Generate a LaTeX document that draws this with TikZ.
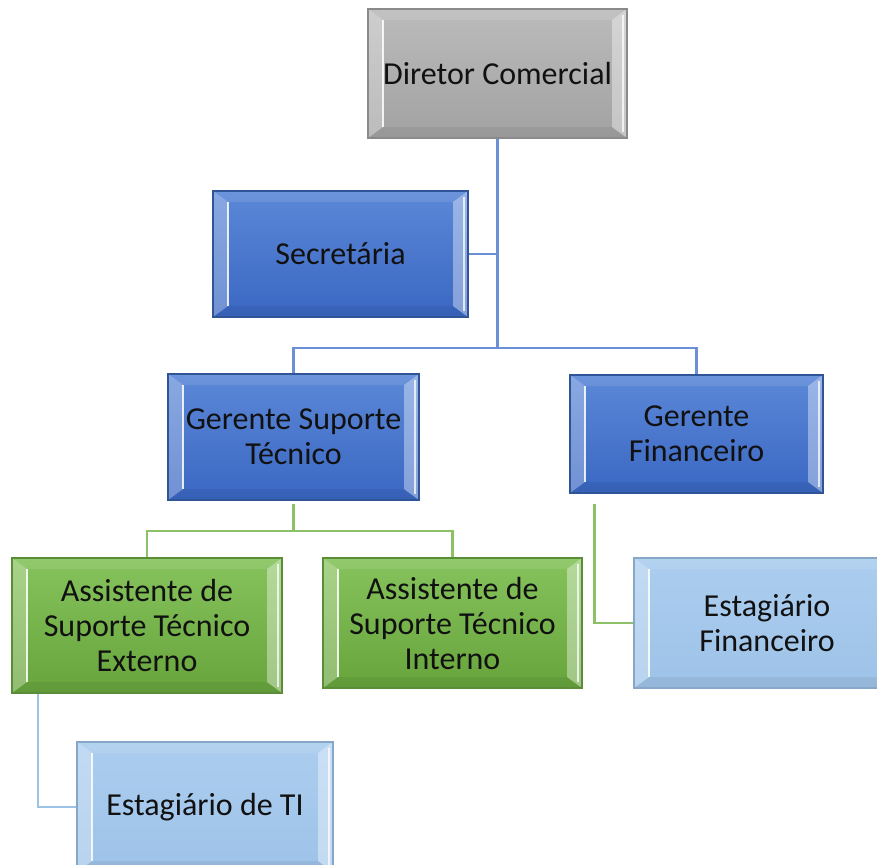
\documentclass[tikz,border=0pt]{standalone}
\usepackage{fontspec}
\setmainfont{Carlito}
\usetikzlibrary{calc}
\definecolor{txt}{HTML}{111111}
\definecolor{grayT}{HTML}{BBBBBB}
\definecolor{grayB}{HTML}{A2A2A2}
\definecolor{grayD}{HTML}{8A8A8A}
\definecolor{blueT}{HTML}{5C88D8}
\definecolor{blueB}{HTML}{3A67C2}
\definecolor{blueD}{HTML}{2F5597}
\definecolor{greenT}{HTML}{86C35C}
\definecolor{greenB}{HTML}{68A43C}
\definecolor{greenD}{HTML}{5A8D38}
\definecolor{lbT}{HTML}{ABCDEF}
\definecolor{lbB}{HTML}{9EC3E8}
\definecolor{lbD}{HTML}{86A7C8}
\definecolor{lineBlue}{HTML}{6A91D6}
\definecolor{lineGreen}{HTML}{8CC168}
\definecolor{lineLB}{HTML}{9CC2E6}
\tikzset{
  bevbox/.style={rectangle, align=center, text=txt, inner sep=0pt,
    font=\fontsize{32}{35}\selectfont, line width=1.2pt,
    path picture={
      \coordinate (pNW) at (path picture bounding box.north west);
      \coordinate (pNE) at (path picture bounding box.north east);
      \coordinate (pSW) at (path picture bounding box.south west);
      \coordinate (pSE) at (path picture bounding box.south east);
      \fill[white,opacity=.10] (pNW) -- (pNE) -- ([shift={(-15pt,-11pt)}]pNE) -- ([shift={(15pt,-11pt)}]pNW) -- cycle;
      \fill[black,opacity=.06] (pSW) -- (pSE) -- ([shift={(-15pt,11pt)}]pSE) -- ([shift={(15pt,11pt)}]pSW) -- cycle;
      \fill[white,opacity=.28] (pNW) -- ([shift={(15pt,-11pt)}]pNW) -- ([shift={(15pt,11pt)}]pSW) -- (pSW) -- cycle;
      \fill[white,opacity=.38] (pNE) -- ([shift={(-15pt,-11pt)}]pNE) -- ([shift={(-15pt,11pt)}]pSE) -- (pSE) -- cycle;
      \draw[white,opacity=.85,line width=1.6pt] ([shift={(15pt,-11pt)}]pNW) -- ([shift={(15pt,11pt)}]pSW);
      \draw[white,opacity=.75,line width=1.8pt] ([shift={(-4pt,-6pt)}]pNE) -- ([shift={(-4pt,6pt)}]pSE);
    }},
  graybox/.style={bevbox, top color=grayT, bottom color=grayB, draw=grayD},
  bluebox/.style={bevbox, top color=blueT, bottom color=blueB, draw=blueD},
  greenbox/.style={bevbox, top color=greenT, bottom color=greenB, draw=greenD},
  lbbox/.style={bevbox, top color=lbT, bottom color=lbB, draw=lbD},
  blueline/.style={draw=lineBlue, line width=2.4pt},
  greenline/.style={draw=lineGreen, line width=2.4pt},
  lbline/.style={draw=lineLB, line width=2.4pt},
}
\begin{document}
\begin{tikzpicture}[x=1pt,y=-1pt]
\useasboundingbox (0,0) rectangle (877,864);
\clip (0,0) rectangle (877,864);
\fill[white] (0,0) rectangle (877,864);

\coordinate (y348) at (0,348);
\coordinate (y531) at (0,531);

\node[graybox, minimum width=259pt, minimum height=129pt] (dir) at (497.5,73.5) {Diretor Comercial};
\node[bluebox, minimum width=255pt, minimum height=126pt] (sec) at (340.5,254) {Secretária};
\node[bluebox, minimum width=251pt, minimum height=126pt] (gst) at (293.5,437) {Gerente Suporte\\Técnico};
\node[bluebox, minimum width=253pt, minimum height=118pt] (gf) at (696.5,434) {Gerente\\Financeiro};
\node[greenbox, minimum width=270pt, minimum height=135pt] (ae) at (147,625.5) {Assistente de\\Suporte Técnico\\Externo};
\node[greenbox, minimum width=259pt, minimum height=130pt] (ai) at (452.5,623) {Assistente de\\Suporte Técnico\\Interno};
\node[lbbox, minimum width=266pt, minimum height=130pt] (ef) at (767,623) {Estagiário\\Financeiro};
\node[lbbox, minimum width=256pt, minimum height=130pt] (eti) at (205,807) {Estagiário de TI};

\coordinate (b1) at (dir.south |- y348);
\coordinate (b2) at (gst.south |- y531);

\draw[blueline] (dir.south) -- (b1);
\draw[blueline] (sec.east) -- (sec.east -| dir.south);
\draw[blueline] (gst.north) |- (b1) -| (gf.north);

\draw[greenline] ([yshift=-3pt]gst.south) -- (b2);
\draw[greenline] (ae.north) |- (b2) -| (ai.north);
\draw[greenline] ([shift={(-102pt,-10pt)}]gf.south) |- (ef.west);

\draw[lbline] ([xshift=-109pt]ae.south) |- (eti.west);
\end{tikzpicture}
\end{document}
